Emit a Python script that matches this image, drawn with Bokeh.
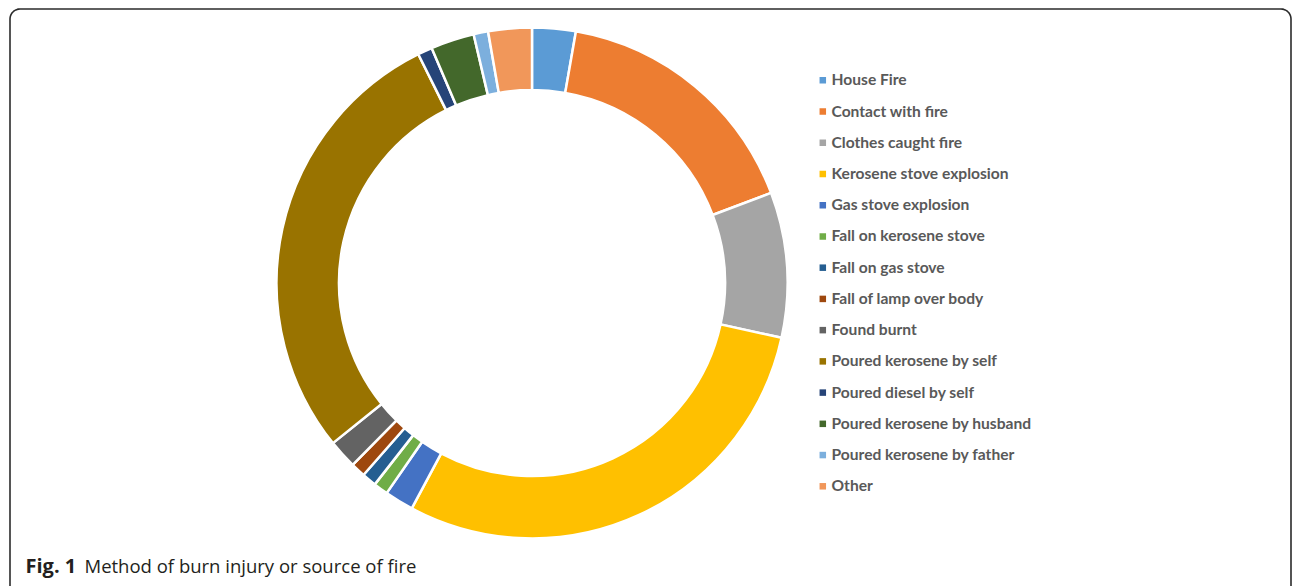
import numpy as np
from bokeh.plotting import figure
from bokeh.models import Range1d, ColumnDataSource
from bokeh.core.properties import value
from bokeh.embed import file_html
from bokeh.resources import INLINE

categories = ["House Fire", "Contact with fire", "Clothes caught fire",
              "Kerosene stove explosion", "Gas stove explosion",
              "Fall on kerosene stove", "Fall on gas stove",
              "Fall of lamp over body", "Found burnt",
              "Poured kerosene by self", "Poured diesel by self",
              "Poured kerosene by husband", "Poured kerosene by father", "Other"]
counts = [3, 18, 10, 32, 2, 1, 1, 1, 2, 31, 1, 3, 1, 3]
colors = ["#5B9BD5", "#ED7D31", "#A5A5A5", "#FFC000", "#4472C4", "#70AD47",
          "#255E91", "#9E480E", "#636363", "#997300", "#264478", "#43682B",
          "#7CAFDD", "#F1975A"]
caption_bold = "Fig. 1"
caption_text = "Method of burn injury or source of fire"

W, H = 1292, 586
OX, OY = 0, 0  # page offset (observed)


def X(sx):
    return sx - OX


def Y(sy):
    return (H + OY) - sy


p = figure(width=W, height=H, output_backend="svg", toolbar_location=None,
           x_range=Range1d(0, W), y_range=Range1d(0, H),
           x_axis_location=None, y_axis_location=None, min_border=0)
p.grid.visible = False
p.outline_line_color = None
p.background_fill_color = "white"
p.border_fill_color = "white"

# frame (rounded box)
r = 10
left, right, top, bottom = X(9.5), X(1290.5), Y(8.5), Y(600)
t = np.linspace(0, np.pi / 2, 12)
xs = ([left + r - r * np.cos(a) for a in t] +
      [right - r + r * np.sin(a) for a in t])
ys = ([top - r + r * np.sin(a) for a in t] +
      [top - r + r * np.cos(a) for a in t])
xs = [left] + xs + [right]
ys = [bottom] + ys + [bottom]
p.line(xs, ys, line_color="#2b2b2b", line_width=1.6)

# donut
vals = np.array(counts, dtype=float)
frac = vals / vals.sum()
ends = np.cumsum(frac) * 2 * np.pi
starts = ends - frac * 2 * np.pi
start_ang = np.pi / 2 - starts
end_ang = np.pi / 2 - ends
src = ColumnDataSource(dict(start=start_ang, end=end_ang, color=colors, cat=categories))
p.annular_wedge(x=X(531.5), y=Y(282.5), inner_radius=193, outer_radius=255.5,
                start_angle="start", end_angle="end", direction="clock",
                fill_color="color", line_color="white", line_width=2.5, source=src)

# legend
n = len(categories)
ly = [Y(79.8 + 31.23 * i) for i in range(n)]
p.rect(x=[X(822.3)] * n, y=ly, width=6.5, height=6.5, fill_color=colors, line_color=None)
p.text(x=[X(831)] * n, y=[v + 1.0 for v in ly], text=categories,
       text_font=value("Lato"), text_font_style="bold", text_font_size="15.6px",
       text_color="#595959", text_baseline="middle", text_align="left")

# caption
p.text(x=[X(25)], y=[Y(565)], text=[caption_bold], text_font=value("Open Sans"),
       text_font_style="bold", text_font_size="20px", text_color="#231f20",
       text_baseline="alphabetic")
p.text(x=[X(84)], y=[Y(565)], text=[caption_text], text_font=value("Open Sans"),
       text_font_size="18.5px", text_color="#231f20", text_baseline="alphabetic")

open("out.html", "w").write(file_html(p, INLINE))
